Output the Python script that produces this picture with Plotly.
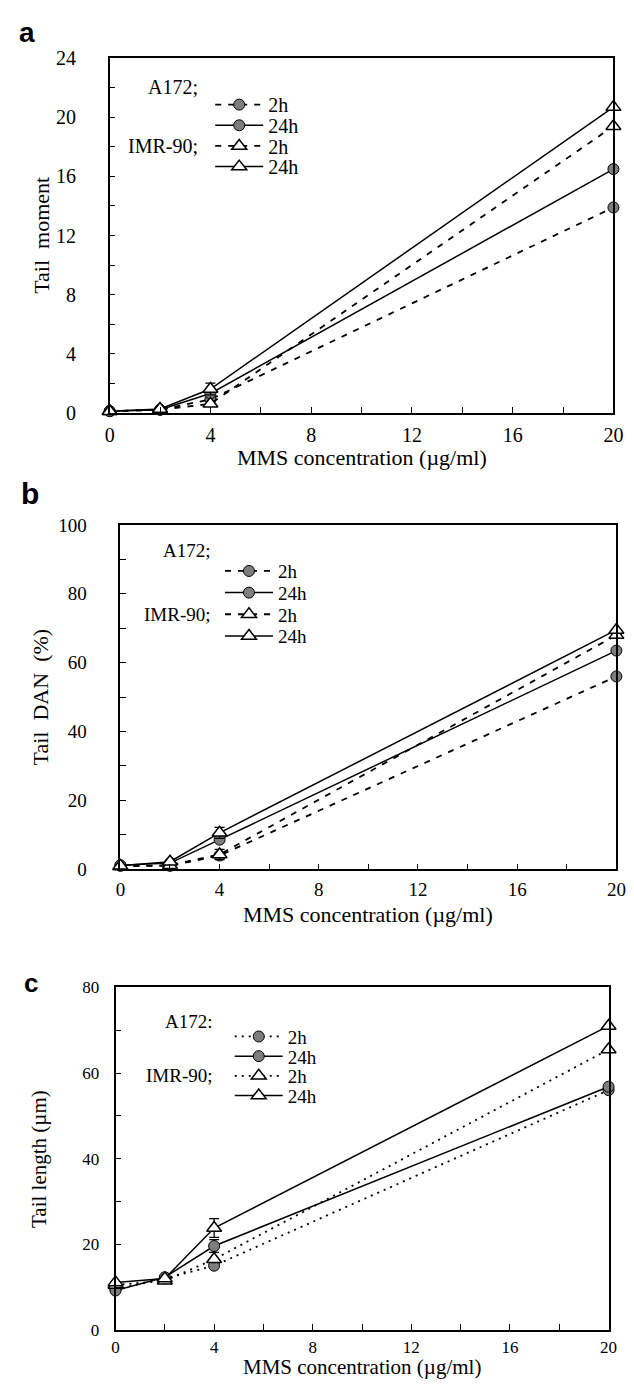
import plotly.graph_objects as go

W, H = 634, 1389
OFF = 8  # default page body margin of the html page

# ---------------- data ----------------
conc = [0, 2, 4, 20]
x_ticks = [0, 4, 8, 12, 16, 20]

# panel a: Tail moment
tm_a172_2h = [0.1, 0.2, 0.9, 13.9]
tm_a172_24h = [0.1, 0.2, 1.3, 16.5]
tm_imr_2h = [0.1, 0.2, 0.6, 19.4]
tm_imr_24h = [0.1, 0.25, 1.6, 20.7]
tm_err_imr_24h = [0, 0, 0.4, 0]

# panel b: Tail DNA (%)
td_a172_2h = [1.0, 1.0, 4.0, 56.0]
td_a172_24h = [1.2, 1.8, 8.6, 63.5]
td_imr_2h = [0.8, 1.2, 4.3, 68.0]
td_imr_24h = [1.0, 2.2, 10.6, 69.5]
td_err_imr_24h = [0, 0, 1.6, 0]
td_err_imr_2h = [0, 0, 1.5, 0]

# panel c: Tail length (um)
tl_a172_2h = [9.5, 12.0, 15.0, 56.0]
tl_a172_24h = [9.2, 12.3, 19.6, 56.8]
tl_imr_2h = [10.5, 11.5, 16.5, 65.5]
tl_imr_24h = [11.1, 12.0, 23.8, 71.0]
tl_err_imr_24h = [0, 0, 2.2, 0]
tl_err_a172_24h = [0, 0, 1.5, 0]

series_names = ["2h", "24h", "2h", "24h"]
group_labels = ["A172;", "IMR-90;"]

# ---------------- layout helpers ----------------
def px_x(p):
    return (p - OFF) / W

def px_y(p):
    return 1 - (p - OFF) / H

SERIF = "Liberation Serif"

panels = [
    dict(data=[tm_a172_2h, tm_a172_24h, tm_imr_2h, tm_imr_24h],
         err=[None, None, None, tm_err_imr_24h],
         xd=(107, 623), yd=(48, 408), yr=[0, 24], ydt=4, ymin=2,
         dash="6px,7px", ytitle="Tail  moment", tfs=20, titfs=22,
         ystand=28, xstand=4, ytx=37, xty=454,
         letter="a", lx=12, ly=22, lfs=28,
         g_right=200, g_y=[77, 137], sym_x=210, rows=[95, 116, 137, 158], legfs=20),
    dict(data=[td_a172_2h, td_a172_24h, td_imr_2h, td_imr_24h],
         err=[None, None, td_err_imr_2h, td_err_imr_24h],
         xd=(118, 626), yd=(522, 872), yr=[0, 100], ydt=20, ymin=10,
         dash="6px,7px", ytitle="Tail  DAN  (%)", tfs=19, titfs=22,
         ystand=28, xstand=2, ytx=36, xty=918,
         letter="b", lx=14, ly=490, lfs=30,
         g_right=213, g_y=[548, 613], sym_x=220, rows=[569, 591, 613, 635], legfs=19),
    dict(data=[tl_a172_2h, tl_a172_24h, tl_imr_2h, tl_imr_24h],
         err=[None, tl_err_a172_24h, None, tl_err_imr_24h],
         xd=(113, 618), yd=(992, 1340), yr=[0, 80], ydt=20, ymin=10,
         dash="2px,5px", ytitle="Tail length (µm)", tfs=17, titfs=21,
         ystand=11, xstand=1, ytx=34, xty=1378,
         letter="c", lx=17, ly=988, lfs=26,
         g_right=215, g_y=[1027, 1082], sym_x=230, rows=[1042, 1062, 1082, 1102], legfs=19),
]

fig = go.Figure()
annotations = []
layout_axes = {}
leg_idx = 0

for i, p in enumerate(panels):
    n = i + 1
    xa = "x" if n == 1 else f"x{n}"
    ya = "y" if n == 1 else f"y{n}"
    xkey = "xaxis" if n == 1 else f"xaxis{n}"
    ykey = "yaxis" if n == 1 else f"yaxis{n}"
    for j, vals in enumerate(p["data"]):
        leg_idx += 1
        lname = "legend" if leg_idx == 1 else f"legend{leg_idx}"
        is_circle = j < 2
        solid = j % 2 == 1
        err = p["err"][j]
        tr = go.Scatter(
            x=conc, y=vals, xaxis=xa, yaxis=ya,
            mode="lines+markers", name=series_names[j],
            legend=lname, cliponaxis=False,
            line=dict(color="black", width=1.5 if solid else 1.8,
                      dash="solid" if solid else p["dash"]),
            marker=dict(
                symbol="circle" if is_circle else "triangle-up",
                size=11 if is_circle else 13,
                color="#7d7d7d" if is_circle else "white",
                line=dict(color="black", width=1 if is_circle else 1.5),
            ),
        )
        if err is not None:
            tr.error_y = dict(type="data", array=err, visible=True,
                              color="black", thickness=1.3, width=5)
        fig.add_trace(tr)
        layout_axes[lname] = dict(
            x=px_x(p["sym_x"]), y=px_y(p["rows"][j]), xanchor="left", yanchor="middle",
            xref="paper", yref="paper", bgcolor="rgba(0,0,0,0)", borderwidth=0,
            itemwidth=48, font=dict(family=SERIF, size=p["legfs"], color="black"),
            tracegroupgap=0, itemclick=False,
        )
    layout_axes[xkey] = dict(
        domain=[px_x(p["xd"][0]), px_x(p["xd"][1])], anchor=ya,
        range=[0, 20], tickvals=x_ticks, ticks="inside", ticklen=6, tickwidth=1.3,
        minor=dict(dtick=2, tick0=0, ticks="inside", ticklen=6, tickwidth=1.3, tickcolor="black"),
        showline=True, linecolor="black", linewidth=1.5, mirror=True,
        showgrid=False, zeroline=False, tickcolor="black",
        tickfont=dict(family=SERIF, size=p["tfs"], color="black"),
        ticklabelstandoff=p["xstand"],
    )
    layout_axes[ykey] = dict(
        domain=[px_y(p["yd"][1]), px_y(p["yd"][0])], anchor=xa,
        range=p["yr"], dtick=p["ydt"], tick0=0, ticks="inside", ticklen=6, tickwidth=1.3,
        minor=dict(dtick=p["ymin"], tick0=0, ticks="inside", ticklen=6, tickwidth=1.3, tickcolor="black"),
        showline=True, linecolor="black", linewidth=1.5, mirror=True,
        showgrid=False, zeroline=False, tickcolor="black",
        tickfont=dict(family=SERIF, size=p["tfs"], color="black"),
        ticklabelstandoff=p["ystand"],
    )
    annotations.append(dict(
        text=p["ytitle"], x=px_x(p["ytx"]), y=px_y((p["yd"][0] + p["yd"][1]) / 2),
        xref="paper", yref="paper", textangle=-90, showarrow=False,
        xanchor="center", yanchor="middle",
        font=dict(family=SERIF, size=p["titfs"], color="black")))
    annotations.append(dict(
        text="MMS concentration (µg/ml)",
        x=px_x((p["xd"][0] + p["xd"][1]) / 2), y=px_y(p["xty"]),
        xref="paper", yref="paper", showarrow=False, xanchor="center", yanchor="middle",
        font=dict(family=SERIF, size=p["titfs"], color="black")))
    annotations.append(dict(
        text=f"<b>{p['letter']}</b>", x=px_x(p["lx"]), y=px_y(p["ly"]),
        xref="paper", yref="paper", showarrow=False, xanchor="left", yanchor="middle",
        font=dict(family="Liberation Sans", size=p["lfs"], color="black")))
    for g, gy in zip(group_labels, p["g_y"]):
        lbl = g if i < 2 else g.replace("A172;", "A172:")
        annotations.append(dict(
            text=lbl, x=px_x(p["g_right"]), y=px_y(gy),
            xref="paper", yref="paper", showarrow=False, xanchor="right", yanchor="middle",
            font=dict(family=SERIF, size=p["legfs"], color="black")))

fig.update_layout(
    width=W, height=H, margin=dict(l=0, r=0, t=0, b=0),
    paper_bgcolor="white", plot_bgcolor="white",
    font=dict(family=SERIF, size=19, color="black"),
    showlegend=True, annotations=annotations,
    **layout_axes,
)

fig.write_html("out.html")
